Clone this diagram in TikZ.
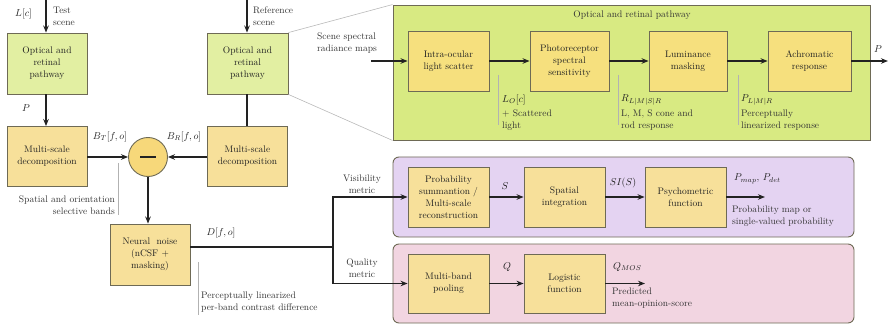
\documentclass[tikz,border=0pt]{standalone}
\usetikzlibrary{arrows.meta}
\definecolor{optfill}{HTML}{E2EFA2}
\definecolor{msfill}{HTML}{F7E09A}
\definecolor{innerfill}{HTML}{F6E07E}
\definecolor{bigfill}{HTML}{D8EA82}
\definecolor{purpfill}{HTML}{E4D3F2}
\definecolor{pinkfill}{HTML}{F2D5E1}
\definecolor{circfill}{HTML}{F7D87A}
\definecolor{edge}{HTML}{6E6A55}
\definecolor{ink}{HTML}{222222}
\definecolor{annot}{HTML}{333333}
\tikzset{
  every node/.style={font=\fontsize{9.5}{12}\selectfont, text=annot},
  box/.style={draw=edge, line width=0.9pt, align=center, inner sep=1pt, text=ink},
  optbox/.style={box, fill=optfill, minimum width=80, minimum height=61},
  msbox/.style={box, fill=msfill, minimum width=80, minimum height=60},
  innerbox/.style={box, fill=innerfill, minimum width=81, minimum height=60},
  panel/.style={draw=edge, line width=0.9pt},
  conn/.style={draw=ink, line width=1.2pt},
  arr/.style={conn, -{Stealth[length=7pt,width=5.5pt]}},
  divider/.style={draw=gray!60, line width=0.6pt},
  zoomline/.style={draw=gray!55, line width=0.6pt},
  lbl/.style={inner sep=1pt, text=ink, font=\fontsize{10}{12}\selectfont},
}
\begin{document}
\begin{tikzpicture}[x=1pt,y=-1pt]
\useasboundingbox (0,0) rectangle (889,326);

% panels
\node[panel, fill=bigfill, minimum width=477, minimum height=135, inner sep=0] (green) at (631.5,72.5) {};
\node[panel, fill=purpfill, rounded corners=6, minimum width=461, minimum height=80, inner sep=0] (purple) at (623.5,197) {};
\node[panel, fill=pinkfill, rounded corners=6, minimum width=461, minimum height=79, inner sep=0] (pink) at (623.5,283.5) {};
\node at (632,15) {Optical and retinal pathway};

% left column
\node[optbox] (opt1) at (47,63.5) {Optical and\\retinal\\pathway};
\node[msbox] (ms1) at (47,156.5) {Multi-scale\\decomposition};
\node[optbox, minimum width=81] (opt2) at (247.5,63.5) {Optical and\\retinal\\pathway};
\node[msbox] (ms2) at (247.5,156) {Multi-scale\\decomposition};
\node[circle, draw=edge, line width=0.9pt, fill=circfill, minimum size=39, inner sep=0] (circ) at (148,157) {};
\draw[line width=1.6pt, draw=ink] ([xshift=-8]circ.center) -- ([xshift=8]circ.center);
\node[msbox, minimum height=61] (nn) at (150,254.5) {Neural\ \ noise\\(nCSF +\\masking)};

\coordinate (in1) at (46,0);
\coordinate (in2) at (247,0);
\draw[arr] (in1) -- (in1 |- opt1.north);
\draw[arr] (in2) -- (in2 |- opt2.north);
\node[lbl, anchor=west] (Lc) at (14,14) {$L[c]$};
\node[anchor=west, align=left, inner sep=1pt] (tsc) at (52,16) {Test\\scene};
\node[anchor=west, align=left, inner sep=1pt] (rsc) at (252,16) {Reference\\scene};

\draw[arr] (opt1.south -| in1) -- (ms1.north -| in1);
\node[lbl] (P1) at (26,108) {$P$};
\draw[conn] (opt2.south -| in2) -- (ms2.north -| in2);

\draw[arr] (ms1.east |- circ) -- (circ.west);
\draw[arr] (ms2.west |- circ) -- (circ.east);
\node[lbl] (BT) at (110,137) {$B_T[f,o]$};
\node[lbl] (BR) at (184,137) {$B_R[f,o]$};
\draw[arr] (circ.south) -- (circ.south |- nn.north);

\node[anchor=east, align=right, inner sep=1pt] (sob) at (116,205.5) {Spatial and orientation\\selective bands};
\coordinate (d1a) at (118,163); \coordinate (d1b) at (118,215);
\draw[divider] (d1a) -- (d1b);

% zoom lines
\draw[zoomline] (opt2.north east) -- (green.north west);
\draw[zoomline] (opt2.south east) -- (green.south west);

% optical and retinal pathway detail
\node[innerbox] (intra) at (448.5,61) {Intra-ocular\\light scatter};
\node[innerbox, minimum width=79] (photo) at (569.5,61) {Photoreceptor\\spectral\\sensitivity};
\node[innerbox, minimum width=78] (lum) at (688,61) {Luminance\\masking};
\node[innerbox, minimum width=83] (achro) at (809.5,61) {Achromatic\\response};
\coordinate (scin) at (371,61);
\coordinate (pout) at (888,61);
\node[anchor=west, align=left, inner sep=1pt] (scene) at (316,43) {Scene spectral\\radiance maps};
\draw[arr] (scin) -- (intra.west);
\draw[arr] (intra) -- (photo);
\draw[arr] (photo) -- (lum);
\draw[arr] (lum) -- (achro);
\draw[arr] (achro) -- (pout);
\node[lbl] (P2) at (878,49) {$P$};

\coordinate (d2a) at (498,75); \coordinate (d2b) at (498,125);
\coordinate (d3a) at (618,75); \coordinate (d3b) at (618,125);
\coordinate (d4a) at (738,75); \coordinate (d4b) at (738,125);
\draw[divider] (d2a) -- (d2b);
\draw[divider] (d3a) -- (d3b);
\draw[divider] (d4a) -- (d4b);
\node[lbl, anchor=west] (LO) at (501,100) {$L_O[c]$};
\node[anchor=north west, align=left, inner sep=1pt] (scat) at (501,109) {+ Scattered\\light};
\node[lbl, anchor=west] (RL) at (620,100) {$R_{L|M|S|R}$};
\node[anchor=north west, align=left, inner sep=1pt] (cone) at (620,109) {L, M, S cone and\\rod response};
\node[lbl, anchor=west] (PL) at (740,100) {$P_{L|M|R}$};
\node[anchor=north west, align=left, inner sep=1pt] (plin) at (740,109) {Perceptually\\linearized response};

% neural noise output and branches
\node[lbl] (D) at (221,233) {$D[f,o]$};
\node[anchor=west, align=left, inner sep=1pt] (plcd) at (200,302) {Perceptually linearized\\per-band contrast difference};
\coordinate (d5a) at (198,262); \coordinate (d5b) at (198,315);
\draw[divider] (d5a) -- (d5b);

\node[innerbox, fill=msfill] (prob) at (448.5,197) {Probability\\summantion /\\Multi-scale\\reconstruction};
\node[innerbox, fill=msfill] (spat) at (564.5,197) {Spatial\\integration};
\node[innerbox, fill=msfill] (psych) at (685.5,197) {Psychometric\\function};
\node[innerbox, fill=msfill, minimum height=59] (mbp) at (448.5,283.5) {Multi-band\\pooling};
\node[innerbox, fill=msfill, minimum height=59] (logi) at (564.5,283.5) {Logistic\\function};

\coordinate (branch) at (333,247);
\draw[conn] (nn.east |- branch) -- (branch);
\draw[arr] (branch) |- (prob.west);
\draw[arr] (branch) |- (mbp.west);
\node[align=center, inner sep=1pt] (vis) at (362,184) {Visibility\\metric};
\node[align=center, inner sep=1pt] (qual) at (362,268) {Quality\\metric};

\draw[arr] (prob) -- (spat);
\draw[arr] (spat) -- (psych);
\draw[arr] (mbp) -- (logi);
\coordinate (pend) at (765,197);
\coordinate (qend) at (645,283.5);
\draw[arr] (psych.east) -- (pend);
\draw[arr] (logi.east) -- (qend);
\node[lbl] (S) at (505,186) {$S$};
\node[lbl] (SI) at (623,183) {$SI(S)$};
\node[lbl] (Q) at (507,267) {$Q$};
\node[lbl, anchor=west] (Pmap) at (733,179) {$P_{map}$, $P_{det}$};
\node[anchor=north west, align=left, inner sep=1pt] (pmo) at (731,205) {Probability map or\\single-valued probability};
\node[lbl, anchor=west] (QMOS) at (612,267) {$Q_{MOS}$};
\node[anchor=north west, align=left, inner sep=1pt] (pmos) at (611,287) {Predicted\\mean-opinion-score};
\end{tikzpicture}
\end{document}
